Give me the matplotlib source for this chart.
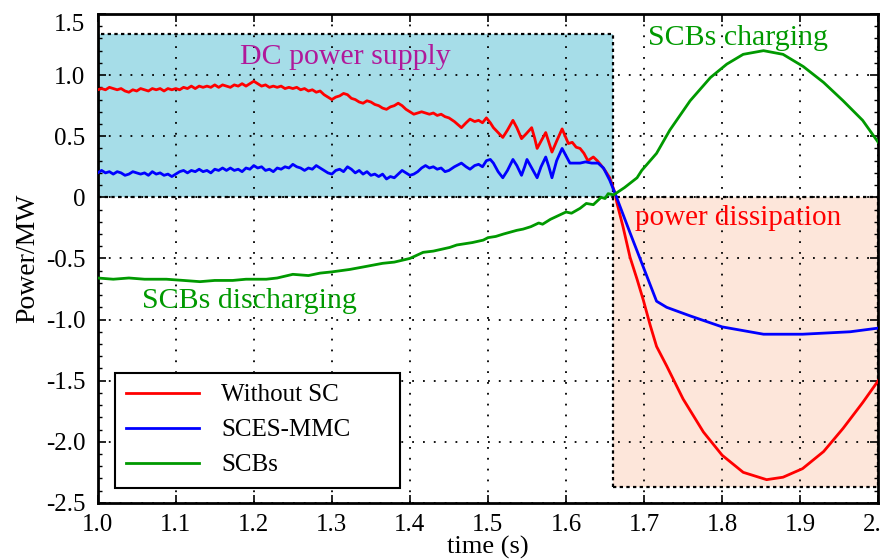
import matplotlib
matplotlib.use("Agg")
import matplotlib.pyplot as plt
from matplotlib.patches import Rectangle

plt.rcParams["font.family"] = ["Liberation Serif", "DejaVu Serif"]

# Without SC (red)
t_red = [1.000, 1.005, 1.010, 1.015, 1.020, 1.025, 1.030, 1.035, 1.040, 1.045,
         1.050, 1.055, 1.060, 1.065, 1.070, 1.075, 1.080, 1.085, 1.090, 1.095,
         1.100, 1.105, 1.110, 1.115, 1.120, 1.125, 1.130, 1.135, 1.140, 1.145,
         1.150, 1.155, 1.160, 1.165, 1.170, 1.175, 1.180, 1.185, 1.190, 1.195,
         1.200, 1.205, 1.210, 1.215, 1.220, 1.225, 1.230, 1.235, 1.240, 1.245,
         1.250, 1.255, 1.260, 1.265, 1.270, 1.275, 1.280, 1.285, 1.290, 1.295,
         1.300, 1.305, 1.310, 1.315, 1.320, 1.325, 1.330, 1.335, 1.340, 1.345,
         1.350, 1.355, 1.360, 1.365, 1.370, 1.375, 1.380, 1.385, 1.390, 1.395,
         1.400, 1.405, 1.410, 1.415, 1.420, 1.425, 1.430, 1.435, 1.440, 1.445,
         1.450, 1.457, 1.466, 1.472, 1.477, 1.483, 1.488, 1.493, 1.498, 1.503,
         1.507, 1.513, 1.519, 1.525, 1.532, 1.537, 1.543, 1.549, 1.556, 1.560,
         1.563, 1.568, 1.574, 1.578, 1.582, 1.588, 1.595, 1.599, 1.603, 1.608,
         1.613, 1.618, 1.623, 1.628, 1.635, 1.640, 1.644, 1.650, 1.656, 1.663,
         1.665, 1.673, 1.682, 1.691, 1.699, 1.708, 1.716, 1.729, 1.750, 1.776,
         1.800, 1.827, 1.857, 1.878, 1.903, 1.930, 1.955, 1.980, 2.000]
p_red = [0.88, 0.89, 0.88, 0.90, 0.89, 0.88, 0.89, 0.87, 0.86, 0.88,
         0.87, 0.89, 0.88, 0.87, 0.89, 0.88, 0.89, 0.87, 0.89, 0.88,
         0.89, 0.88, 0.90, 0.89, 0.91, 0.89, 0.91, 0.90, 0.91, 0.90,
         0.92, 0.90, 0.92, 0.91, 0.90, 0.92, 0.91, 0.93, 0.91, 0.93,
         0.95, 0.93, 0.91, 0.92, 0.90, 0.91, 0.90, 0.91, 0.89, 0.90,
         0.89, 0.90, 0.88, 0.89, 0.87, 0.88, 0.86, 0.87, 0.84, 0.82,
         0.80, 0.82, 0.83, 0.85, 0.84, 0.81, 0.80, 0.78, 0.77, 0.79,
         0.78, 0.76, 0.75, 0.73, 0.72, 0.74, 0.75, 0.77, 0.75, 0.72,
         0.70, 0.68, 0.69, 0.70, 0.69, 0.68, 0.69, 0.67, 0.68, 0.66,
         0.65, 0.62, 0.57, 0.61, 0.64, 0.62, 0.63, 0.61, 0.65, 0.61,
         0.57, 0.53, 0.49, 0.55, 0.63, 0.57, 0.48, 0.52, 0.57, 0.48,
         0.40, 0.46, 0.53, 0.45, 0.37, 0.46, 0.56, 0.50, 0.44, 0.45,
         0.41, 0.40, 0.36, 0.30, 0.33, 0.30, 0.27, 0.22, 0.16, 0.03,
         -0.04, -0.24, -0.49, -0.67, -0.84, -1.05, -1.22, -1.38, -1.65, -1.92,
         -2.11, -2.25, -2.31, -2.29, -2.22, -2.08, -1.89, -1.68, -1.50]

# SCES-MMC (blue)
t_blue = [1.000, 1.005, 1.010, 1.015, 1.020, 1.025, 1.030, 1.035, 1.040, 1.045,
          1.050, 1.055, 1.060, 1.065, 1.070, 1.075, 1.080, 1.085, 1.090, 1.095,
          1.100, 1.105, 1.110, 1.115, 1.120, 1.125, 1.130, 1.135, 1.140, 1.145,
          1.150, 1.155, 1.160, 1.165, 1.170, 1.175, 1.180, 1.185, 1.190, 1.195,
          1.200, 1.205, 1.210, 1.215, 1.220, 1.225, 1.230, 1.235, 1.240, 1.245,
          1.250, 1.255, 1.260, 1.265, 1.270, 1.275, 1.280, 1.285, 1.290, 1.295,
          1.300, 1.305, 1.310, 1.315, 1.320, 1.325, 1.330, 1.335, 1.340, 1.345,
          1.350, 1.355, 1.360, 1.365, 1.370, 1.375, 1.380, 1.385, 1.390, 1.395,
          1.400, 1.405, 1.410, 1.415, 1.420, 1.425, 1.430, 1.435, 1.440, 1.445,
          1.450, 1.457, 1.466, 1.472, 1.477, 1.483, 1.488, 1.493, 1.498, 1.503,
          1.507, 1.513, 1.519, 1.525, 1.532, 1.537, 1.543, 1.547, 1.550, 1.556,
          1.563, 1.568, 1.574, 1.578, 1.582, 1.588, 1.595, 1.600, 1.605, 1.612,
          1.618, 1.625, 1.633, 1.641, 1.648, 1.656, 1.663, 1.682, 1.699, 1.716,
          1.729, 1.759, 1.800, 1.853, 1.903, 1.964, 2.000]
p_blue = [0.20, 0.22, 0.20, 0.21, 0.19, 0.21, 0.20, 0.18, 0.19, 0.21,
          0.20, 0.19, 0.20, 0.18, 0.21, 0.19, 0.20, 0.18, 0.19, 0.17,
          0.19, 0.21, 0.22, 0.20, 0.22, 0.21, 0.23, 0.21, 0.22, 0.20,
          0.23, 0.22, 0.24, 0.22, 0.24, 0.22, 0.23, 0.21, 0.24, 0.23,
          0.26, 0.24, 0.25, 0.22, 0.23, 0.21, 0.24, 0.23, 0.25, 0.24,
          0.27, 0.25, 0.24, 0.22, 0.24, 0.23, 0.26, 0.24, 0.22, 0.20,
          0.19, 0.22, 0.23, 0.21, 0.25, 0.23, 0.20, 0.22, 0.19, 0.21,
          0.18, 0.19, 0.17, 0.19, 0.15, 0.17, 0.16, 0.19, 0.22, 0.20,
          0.18, 0.19, 0.21, 0.24, 0.26, 0.24, 0.25, 0.23, 0.24, 0.21,
          0.22, 0.25, 0.28, 0.25, 0.23, 0.26, 0.27, 0.25, 0.30, 0.31,
          0.28, 0.21, 0.16, 0.22, 0.31, 0.26, 0.18, 0.25, 0.31, 0.24,
          0.16, 0.25, 0.33, 0.25, 0.16, 0.30, 0.40, 0.34, 0.28, 0.28,
          0.28, 0.29, 0.28, 0.28, 0.24, 0.14, 0.03, -0.29, -0.57, -0.85,
          -0.90, -0.97, -1.06, -1.12, -1.12, -1.10, -1.07]

# SCBs (green)
t_green = [1.000, 1.020, 1.040, 1.060, 1.088, 1.110, 1.131, 1.150, 1.173, 1.190,
           1.216, 1.230, 1.250, 1.270, 1.285, 1.300, 1.323, 1.340, 1.365, 1.380,
           1.400, 1.417, 1.430, 1.451, 1.460, 1.470, 1.480, 1.494, 1.500, 1.510,
           1.520, 1.537, 1.545, 1.555, 1.565, 1.570, 1.580, 1.590, 1.600, 1.607,
           1.618, 1.626, 1.635, 1.645, 1.650, 1.654, 1.661, 1.675, 1.691, 1.697,
           1.716, 1.733, 1.759, 1.785, 1.806, 1.827, 1.853, 1.878, 1.904, 1.930,
           1.955, 1.980, 2.000]
p_green = [-0.66, -0.67, -0.66, -0.67, -0.67, -0.68, -0.69, -0.68, -0.68, -0.67,
           -0.67, -0.66, -0.63, -0.64, -0.62, -0.61, -0.59, -0.57, -0.54, -0.53,
           -0.50, -0.45, -0.44, -0.41, -0.39, -0.38, -0.37, -0.35, -0.33, -0.32,
           -0.30, -0.27, -0.26, -0.24, -0.21, -0.22, -0.18, -0.15, -0.12, -0.13,
           -0.09, -0.05, -0.06, 0.00, -0.01, 0.03, 0.02, 0.08, 0.16, 0.22,
           0.36, 0.55, 0.79, 0.98, 1.09, 1.17, 1.20, 1.17, 1.07, 0.94,
           0.79, 0.63, 0.45]

y_ticks = [1.5, 1.0, 0.5, 0, -0.5, -1.0, -1.5, -2.0, -2.5]
y_labels = ["1.5", "1.0", "0.5", "0", "-0.5", "-1.0", "-1.5", "-2.0", "-2.5"]
x_ticks = [1.0, 1.1, 1.2, 1.3, 1.4, 1.5, 1.6, 1.7, 1.8, 1.9, 2.0]

fig = plt.figure(figsize=(8.8, 5.6), dpi=100)
ax = fig.add_axes([0.111, 0.102, 0.887, 0.873])

# shaded regions
ax.add_patch(Rectangle((1.0, 0), 0.66, 1.34, facecolor="#a6dde8",
                       edgecolor="black", linestyle=(0, (1.5, 1.5)), lw=1.6, zorder=1))
ax.add_patch(Rectangle((1.66, -2.37), 0.34, 2.37, facecolor="#fde6da",
                       edgecolor="black", linestyle=(0, (1.5, 1.5)), lw=1.6, zorder=1))

ax.plot(t_red, p_red, color="#ff0000", lw=2, label="Without SC", zorder=3)
ax.plot(t_blue, p_blue, color="#0000ff", lw=2, label="SCES-MMC", zorder=3)
ax.plot(t_green, p_green, color="#009900", lw=2, label="SCBs", zorder=3)

ax.text(1.317, 1.15, "DC power supply", color="#b0189a", fontsize=21.5,
        ha="center", va="center", zorder=4)
ax.text(1.82, 1.30, "SCBs charging", color="#009900", fontsize=21.5,
        ha="center", va="center", zorder=4)
ax.text(1.82, -0.17, "power dissipation", color="#ff0000", fontsize=21,
        ha="center", va="center", zorder=4)
ax.text(1.195, -0.85, "SCBs discharging", color="#009900", fontsize=21.5,
        ha="center", va="center", zorder=4)

ax.set_xlim(1.0, 2.0)
ax.set_ylim(-2.5, 1.5)
ax.set_xticks(x_ticks)
ax.set_yticks(y_ticks)
ax.set_yticklabels(y_labels)
ax.get_yticklabels()[0].set_va("top")
ax.set_yticks([v / 10 for v in range(-25, 16)], minor=True)
ax.tick_params(direction="in", which="both", top=True, right=True, labelsize=18)
ax.tick_params(which="major", length=6, width=1.2)
ax.tick_params(axis="x", which="major", pad=8)
ax.tick_params(axis="y", which="major", pad=9)
ax.tick_params(which="minor", length=3, width=1)
ax.grid(True, color="black", linestyle=(0, (1, 5)), lw=1.3)
ax.set_axisbelow(False)
for s in ax.spines.values():
    s.set_linewidth(2)

ax.set_xlabel("time (s)", fontsize=19, labelpad=0)
ax.set_ylabel("Power/MW", fontsize=20, labelpad=4)

leg = ax.legend(loc="lower left", bbox_to_anchor=(0.022, 0.031, 0.365, 0.237),
                mode="expand", borderaxespad=0, fontsize=18,
                fancybox=False, framealpha=1, edgecolor="black",
                handlelength=2.9, handletextpad=0.9, labelspacing=0.5,
                borderpad=0.45)
leg.get_frame().set_linewidth(1.5)
leg.set_zorder(5)

plt.savefig("out.png", dpi=100)
